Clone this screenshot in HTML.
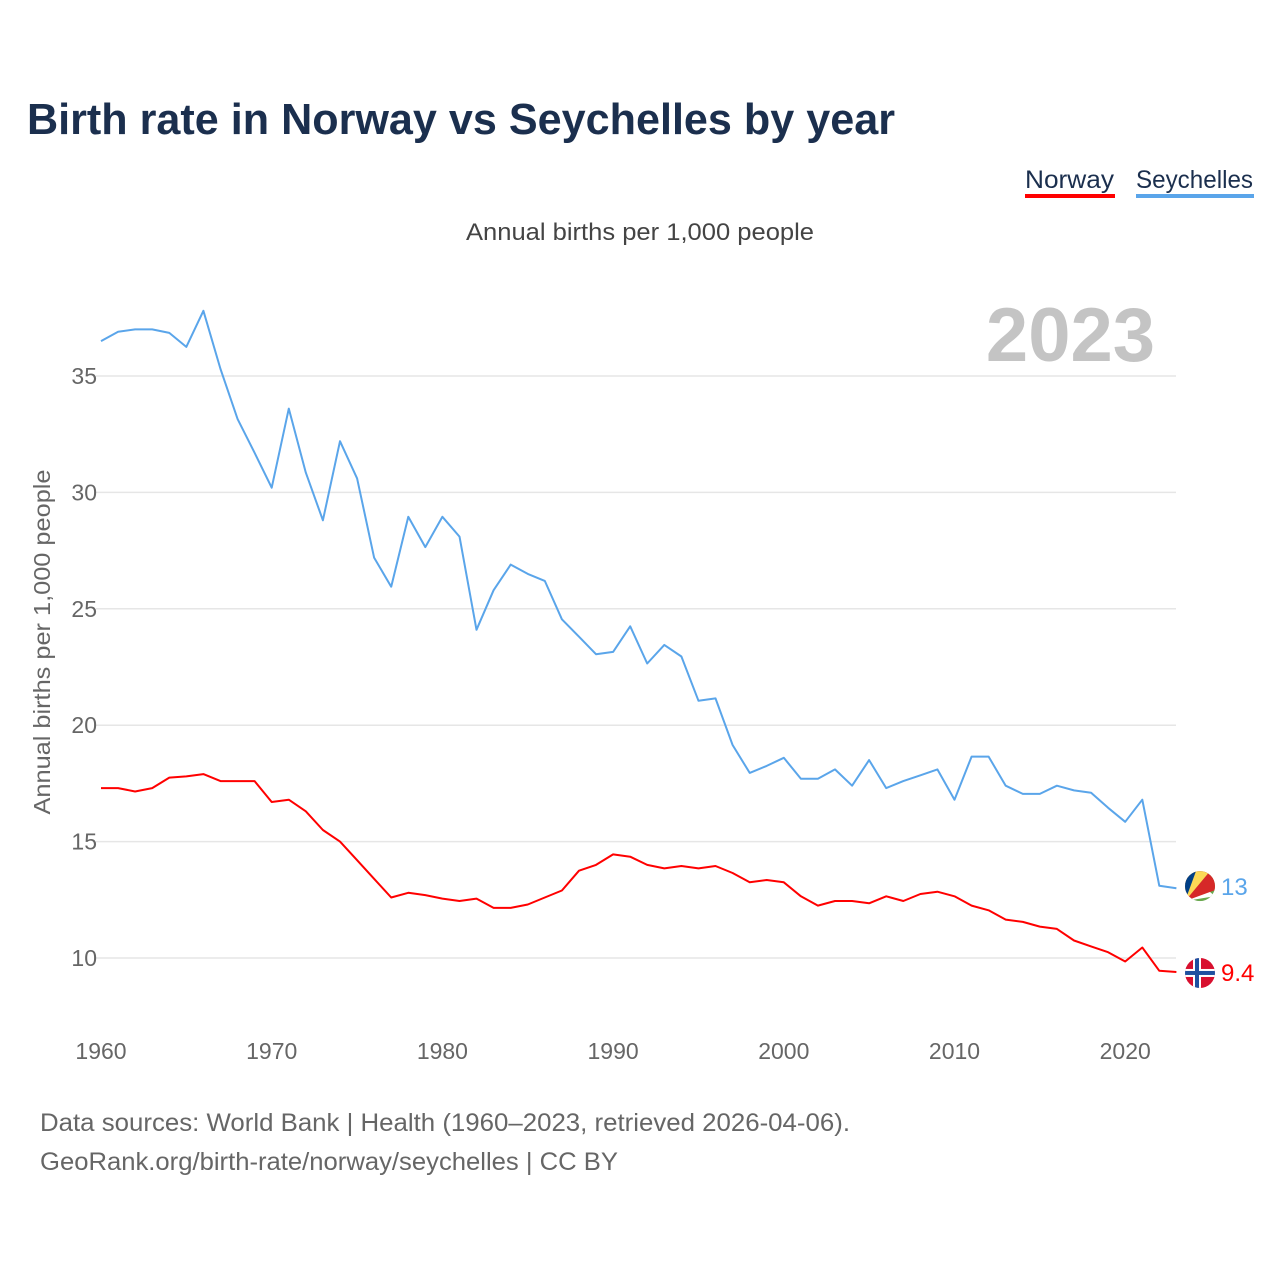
<!DOCTYPE html>
<html><head><meta charset="utf-8"><style>
body{margin:0;background:#fff;width:1280px;height:1280px;overflow:hidden;font-family:"Liberation Sans",sans-serif}
</style></head><body>
<svg width="1280" height="1280" xmlns="http://www.w3.org/2000/svg" id="chart">
<text x="27" y="134" font-size="44" font-weight="bold" fill="#1b2f4e" textLength="868" lengthAdjust="spacingAndGlyphs">Birth rate in Norway vs Seychelles by year</text>
<g><text x="1025" y="188" font-size="25" fill="#1b2f4e" textLength="89" lengthAdjust="spacingAndGlyphs">Norway</text><rect x="1025" y="194" width="90" height="4" fill="#ff0000"/></g>
<g><text x="1136" y="188" font-size="25" fill="#1b2f4e" textLength="117" lengthAdjust="spacingAndGlyphs">Seychelles</text><rect x="1136" y="194" width="118" height="4" fill="#5aa5ea"/></g>
<text x="640" y="240" font-size="24" fill="#444" text-anchor="middle" textLength="348" lengthAdjust="spacingAndGlyphs">Annual births per 1,000 people</text>
<text x="1155" y="361" font-size="76" font-weight="bold" fill="#c4c4c4" text-anchor="end">2023</text>
<text transform="translate(50,642) rotate(-90)" font-size="23" fill="#666" text-anchor="middle" textLength="345" lengthAdjust="spacingAndGlyphs">Annual births per 1,000 people</text>
<g id="grid"></g><g id="lines"></g><g id="ends"></g>
<text x="40" y="1131" font-size="25" fill="#666" textLength="810" lengthAdjust="spacingAndGlyphs">Data sources: World Bank | Health (1960–2023, retrieved 2026-04-06).</text>
<text x="40" y="1170" font-size="25" fill="#666" textLength="578" lengthAdjust="spacingAndGlyphs">GeoRank.org/birth-rate/norway/seychelles | CC BY</text>
</svg>
<script>
const years=[];for(let y=1960;y<=2023;y++)years.push(y);
const norway=[17.3,17.3,17.15,17.3,17.75,17.8,17.9,17.6,17.6,17.6,16.7,16.8,16.3,15.5,15.0,14.2,13.4,12.6,12.8,12.7,12.55,12.45,12.55,12.15,12.15,12.3,12.6,12.9,13.75,14.0,14.45,14.35,14.0,13.85,13.95,13.85,13.95,13.65,13.25,13.35,13.25,12.65,12.25,12.45,12.45,12.35,12.65,12.45,12.75,12.85,12.65,12.25,12.05,11.65,11.55,11.35,11.25,10.75,10.5,10.25,9.85,10.45,9.45,9.4];
const seychelles=[36.5,36.9,37.0,37.0,36.85,36.25,37.8,35.3,33.15,31.7,30.2,33.6,30.85,28.8,32.2,30.6,27.2,25.95,28.95,27.65,28.95,28.1,24.1,25.8,26.9,26.5,26.2,24.55,23.8,23.05,23.15,24.25,22.65,23.45,22.95,21.05,21.15,19.15,17.95,18.25,18.6,17.7,17.7,18.1,17.4,18.5,17.3,17.6,17.85,18.1,16.8,18.65,18.65,17.4,17.05,17.05,17.4,17.2,17.1,16.45,15.85,16.8,13.1,13.0];
const yTicks=[10,15,20,25,30,35];
const xTicks=[1960,1970,1980,1990,2000,2010,2020];
const xs=y=>101+(y-1960)*17.07;
const ys=v=>958-(v-10)*23.28;
const NS="http://www.w3.org/2000/svg";
function mk(t,a,p){const e=document.createElementNS(NS,t);for(const k in a)e.setAttribute(k,a[k]);p.appendChild(e);return e;}
const grid=document.getElementById('grid');
yTicks.forEach(v=>{
 const l=mk('line',{x1:96,x2:1176,y1:ys(v),y2:ys(v),stroke:'#e6e6e6','stroke-width':1.5},grid);
 
 
 const t=mk('text',{x:97,y:ys(v)+8,'font-size':23,fill:'#666','text-anchor':'end'},grid);t.textContent=v;
 
 
});
xTicks.forEach(y=>{
 const t=mk('text',{x:xs(y),y:1059,'font-size':23,fill:'#666','text-anchor':'middle'},grid);t.textContent=y;
 
 
});
const lines=document.getElementById('lines');
function series(vals,col,name){
 const p=mk('path',{d:vals.map((v,i)=>(i?'L':'M')+xs(years[i]).toFixed(1)+','+ys(v).toFixed(1)).join(''),fill:'none',stroke:col,'stroke-width':2,'stroke-linejoin':'round'},lines);
 
 
}
series(seychelles,'#5aa5ea','seychelles-line');
series(norway,'#ff0000','norway-line');
const ends=document.getElementById('ends');
const lastS=seychelles[seychelles.length-1],lastN=norway[norway.length-1];
let g=mk('g',{},ends);


const cx=1200,cyS=ys(lastS)-2,cyN=ys(lastN)+1;
mk('clipPath',{id:'cs'},g);mk('circle',{cx:cx,cy:cyS,r:15},g.lastChild);
const gs=mk('g',{'clip-path':'url(#cs)'},g);
mk('rect',{x:cx-15,y:cyS-15,width:30,height:30,fill:'#6aa84f'},gs);
mk('polygon',{points:`${cx-15},${cyS+15} ${cx-15},${cyS-15} ${cx+15},${cyS+10}`,fill:'#fff'},gs);
mk('polygon',{points:`${cx-15},${cyS+15} ${cx-15},${cyS-15} ${cx+15},${cyS-15} ${cx+15},${cyS+4}`,fill:'#d62828'},gs);
mk('polygon',{points:`${cx-15},${cyS+15} ${cx-15},${cyS-15} ${cx+10},${cyS-15}`,fill:'#fcd856'},gs);
mk('polygon',{points:`${cx-15},${cyS+15} ${cx-15},${cyS-15} ${cx-4},${cyS-15}`,fill:'#003f87'},gs);
const tS=mk('text',{x:1221,y:cyS+9,'font-size':24,fill:'#5aa5ea'},ends);tS.textContent=lastS.toFixed(0);


g=mk('g',{},ends);


mk('clipPath',{id:'cn'},g);mk('circle',{cx:cx,cy:cyN,r:15},g.lastChild);
const gn=mk('g',{'clip-path':'url(#cn)'},g);
mk('rect',{x:cx-15,y:cyN-15,width:30,height:30,fill:'#d8102f'},gn);
mk('rect',{x:cx-7,y:cyN-15,width:8,height:30,fill:'#fff'},gn);
mk('rect',{x:cx-15,y:cyN-4,width:30,height:8,fill:'#fff'},gn);
mk('rect',{x:cx-5,y:cyN-15,width:4,height:30,fill:'#1e50a0'},gn);
mk('rect',{x:cx-15,y:cyN-2,width:30,height:4,fill:'#1e50a0'},gn);
const tN=mk('text',{x:1221,y:cyN+8,'font-size':24,fill:'#ff0000'},ends);tN.textContent=lastN.toFixed(1);


</script>
</body></html>
